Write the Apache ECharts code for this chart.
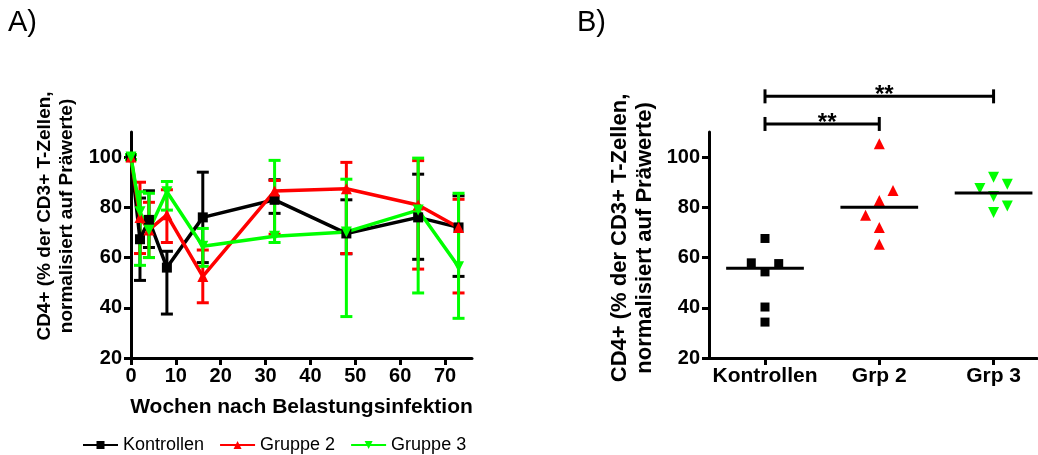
<!DOCTYPE html>
<html>
<head>
<meta charset="utf-8">
<script src="https://cdn.jsdelivr.net/npm/echarts@6/dist/echarts.min.js"></script>
<style>
  html, body { margin: 0; background: #fff; }
  #chart { width: 1038px; height: 455px; }
</style>
</head>
<body>
<div id="chart"></div>
<script>
// Panel A: weeks after challenge infection
const weeks = [0, 2, 4, 8, 16, 32, 48, 64, 73];
const kontrollenMean = [100, 67.3, 75, 56, 76, 83, 69.6, 76, 72];
const kontrollenLow  = [99, 50.9, 64, 37.5, 58, 77.6, 61.5, 59.3, 52.5];
const kontrollenHigh = [101, 83.7, 86.6, 62.5, 94, 91, 83, 93.2, 84.6];
const gruppe2Mean = [100, 76, 71, 77, 52.5, 86.5, 87.4, 80.9, 72];
const gruppe2Low  = [99, 61.6, 60, 66, 42, 69.3, 61.6, 55.4, 45.9];
const gruppe2High = [101, 90, 82, 87, 63, 90.7, 97.9, 98.6, 83.2];
const gruppe3Mean = [100, 78.2, 70.9, 86.2, 64.5, 68.5, 70.2, 78.9, 56.3];
const gruppe3Low  = [99, 56.9, 60, 78.9, 56.5, 66, 36.5, 45.9, 35.8];
const gruppe3High = [101, 86.2, 85.6, 90.3, 71.6, 98.7, 91.2, 99.6, 85.6];

// Panel B: individual animals (x = group index + jitter)
const groupLabels = ['Kontrollen', 'Grp 2', 'Grp 3'];
const kontrollenX = [0, -0.12, 0.12, 0, 0, 0];
const kontrollenY = [67.6, 57.9, 57.6, 54.3, 40.3, 34.3];
const grp2X = [1, 1.12, 1, 0.88, 1, 1];
const grp2Y = [105.3, 86.7, 82.7, 76.8, 72, 65.3];
const grp3X = [2, 1.88, 2.12, 2, 2.12, 2];
const grp3Y = [92, 87.5, 89.2, 84.3, 80.5, 77.9];
const medians = [55.7, 80, 85.7];
// significance brackets: [from group, to group, height]
const brackets = [[0, 2, 124.2], [0, 1, 113.2]];
const bracketLabels = ['**', '**'];

const yTicks = [20, 40, 60, 80, 100];
const xTicksA = [0, 10, 20, 30, 40, 50, 60, 70];
const yTitle = 'CD4+ (% der CD3+ T-Zellen,\nnormalisiert auf Präwerte)';

const FONT = 'Liberation Sans, Arial, sans-serif';
const BLACK = '#000000', RED = '#ff0000', GREEN = '#00ff00';

const zip = (xs, ys) => xs.map((x, i) => [x, ys[i]]);
const zip3 = (xs, a, b) => xs.map((x, i) => [x, a[i], b[i]]);

function errorBars(color) {
  return function (params, api) {
    const x = api.value(0);
    const lo = api.coord([x, api.value(1)]);
    const hi = api.coord([x, api.value(2)]);
    const w = 6;
    const style = { stroke: color, lineWidth: 3 };
    return {
      type: 'group',
      children: [
        { type: 'line', shape: { x1: lo[0], y1: lo[1], x2: hi[0], y2: hi[1] }, style },
        { type: 'line', shape: { x1: lo[0] - w, y1: lo[1], x2: lo[0] + w, y2: lo[1] }, style },
        { type: 'line', shape: { x1: hi[0] - w, y1: hi[1], x2: hi[0] + w, y2: hi[1] }, style }
      ]
    };
  };
}

function medianLine(params, api) {
  const x = api.value(0);
  const a = api.coord([x - 0.34, api.value(1)]);
  const b = api.coord([x + 0.34, api.value(1)]);
  return { type: 'line', shape: { x1: a[0], y1: a[1], x2: b[0], y2: b[1] }, style: { stroke: BLACK, lineWidth: 3 } };
}

function bracket(params, api) {
  const a = api.coord([api.value(0), api.value(2)]);
  const b = api.coord([api.value(1), api.value(2)]);
  const style = { stroke: BLACK, lineWidth: 3 };
  return {
    type: 'group',
    children: [
      { type: 'line', shape: { x1: a[0], y1: a[1], x2: b[0], y2: b[1] }, style },
      { type: 'line', shape: { x1: a[0], y1: a[1] - 7, x2: a[0], y2: a[1] + 7 }, style },
      { type: 'line', shape: { x1: b[0], y1: b[1] - 7, x2: b[0], y2: b[1] + 7 }, style },
      { type: 'text', style: { text: bracketLabels[params.dataIndex], x: (a[0] + b[0]) / 2 + 5, y: a[1] - 1,
        align: 'center', verticalAlign: 'middle', font: 'bold 24px ' + FONT, fill: BLACK } }
    ]
  };
}

const axisLine = { show: true, onZero: false, lineStyle: { color: BLACK, width: 3 } };
const axisTick = { show: true, length: 7, lineStyle: { color: BLACK, width: 3 } };
const labelStyle = { color: BLACK, fontFamily: FONT, fontWeight: 'bold', fontSize: 20 };

function yAxis(gridIndex) {
  return {
    type: 'value', gridIndex, min: 20, max: 110,
    axisLine, axisTick: { ...axisTick, customValues: yTicks },
    axisLabel: { ...labelStyle, margin: 9, customValues: yTicks },
    splitLine: { show: false }
  };
}

function yTitleText(x, y, size) {
  return {
    type: 'text', x, y, rotation: Math.PI / 2,
    style: { text: yTitle, align: 'center', verticalAlign: 'middle', fill: BLACK,
      font: 'bold ' + size + 'px ' + FONT, lineHeight: size + 3 }
  };
}

const chart = echarts.init(document.getElementById('chart'));
chart.setOption({
  animation: false,
  backgroundColor: '#fff',
  title: [
    { text: 'A)', left: 8, top: 8, padding: 0, textStyle: { fontFamily: FONT, fontWeight: 'normal', fontSize: 29, color: BLACK } },
    { text: 'B)', left: 577, top: 8, padding: 0, textStyle: { fontFamily: FONT, fontWeight: 'normal', fontSize: 29, color: BLACK } }
  ],
  graphic: [yTitleText(56, 216, 19), yTitleText(632, 238, 22)],
  legend: {
    data: ['Kontrollen', 'Gruppe 2', 'Gruppe 3'],
    left: 82, top: 436, padding: 0, itemGap: 15, itemWidth: 35, itemHeight: 10,
    textStyle: { fontFamily: FONT, fontSize: 18, color: BLACK }
  },
  grid: [
    { left: 131, top: 132, width: 341, height: 226 },
    { left: 709, top: 132, width: 328, height: 226 }
  ],
  xAxis: [
    {
      type: 'value', gridIndex: 0, min: 0, max: 76,
      name: 'Wochen nach Belastungsinfektion', nameLocation: 'middle', nameGap: 39,
      nameTextStyle: { color: BLACK, fontFamily: FONT, fontWeight: 'bold', fontSize: 21 },
      axisLine, axisTick: { ...axisTick, customValues: xTicksA },
      axisLabel: { ...labelStyle, margin: 8, customValues: xTicksA },
      splitLine: { show: false }
    },
    {
      type: 'value', gridIndex: 1, min: -0.49, max: 2.38,
      axisLine, axisTick: { ...axisTick, customValues: [0, 1, 2] },
      axisLabel: { ...labelStyle, fontSize: 21, margin: 8, customValues: [0, 1, 2],
        formatter: v => groupLabels[Math.round(v)] },
      splitLine: { show: false }
    }
  ],
  yAxis: [yAxis(0), yAxis(1)],
  series: [
    { name: 'Kontrollen SD', type: 'custom', xAxisIndex: 0, yAxisIndex: 0, renderItem: errorBars(BLACK),
      encode: { x: 0, y: [1, 2] }, data: zip3(weeks, kontrollenLow, kontrollenHigh), clip: false },
    { name: 'Kontrollen', type: 'line', xAxisIndex: 0, yAxisIndex: 0, data: zip(weeks, kontrollenMean),
      symbol: 'rect', symbolSize: 10, itemStyle: { color: BLACK }, lineStyle: { color: BLACK, width: 3.5 } },
    { name: 'Gruppe 2 SD', type: 'custom', xAxisIndex: 0, yAxisIndex: 0, renderItem: errorBars(RED),
      encode: { x: 0, y: [1, 2] }, data: zip3(weeks, gruppe2Low, gruppe2High), clip: false },
    { name: 'Gruppe 2', type: 'line', xAxisIndex: 0, yAxisIndex: 0, data: zip(weeks, gruppe2Mean),
      symbol: 'triangle', symbolSize: 11, itemStyle: { color: RED }, lineStyle: { color: RED, width: 3.5 } },
    { name: 'Gruppe 3 SD', type: 'custom', xAxisIndex: 0, yAxisIndex: 0, renderItem: errorBars(GREEN),
      encode: { x: 0, y: [1, 2] }, data: zip3(weeks, gruppe3Low, gruppe3High), clip: false },
    { name: 'Gruppe 3', type: 'line', xAxisIndex: 0, yAxisIndex: 0, data: zip(weeks, gruppe3Mean),
      symbol: 'triangle', symbolRotate: 180, symbolSize: 11, itemStyle: { color: GREEN }, lineStyle: { color: GREEN, width: 3.5 } },

    { name: 'B Kontrollen', type: 'scatter', xAxisIndex: 1, yAxisIndex: 1, data: zip(kontrollenX, kontrollenY),
      symbol: 'rect', symbolSize: 9, itemStyle: { color: BLACK, opacity: 1 } },
    { name: 'B Grp 2', type: 'scatter', xAxisIndex: 1, yAxisIndex: 1, data: zip(grp2X, grp2Y),
      symbol: 'triangle', symbolSize: 11, itemStyle: { color: RED, opacity: 1 } },
    { name: 'B Grp 3', type: 'scatter', xAxisIndex: 1, yAxisIndex: 1, data: zip(grp3X, grp3Y),
      symbol: 'triangle', symbolRotate: 180, symbolSize: 11, itemStyle: { color: GREEN, opacity: 1 } },
    { name: 'Median', type: 'custom', xAxisIndex: 1, yAxisIndex: 1, renderItem: medianLine,
      encode: { x: 0, y: 1 }, data: medians.map((m, i) => [i, m]), z: 3 },
    { name: 'Signifikanz', type: 'custom', xAxisIndex: 1, yAxisIndex: 1, renderItem: bracket,
      encode: { x: [0, 1], y: 2 }, data: brackets, clip: false }
  ]
});
</script>
</body>
</html>
